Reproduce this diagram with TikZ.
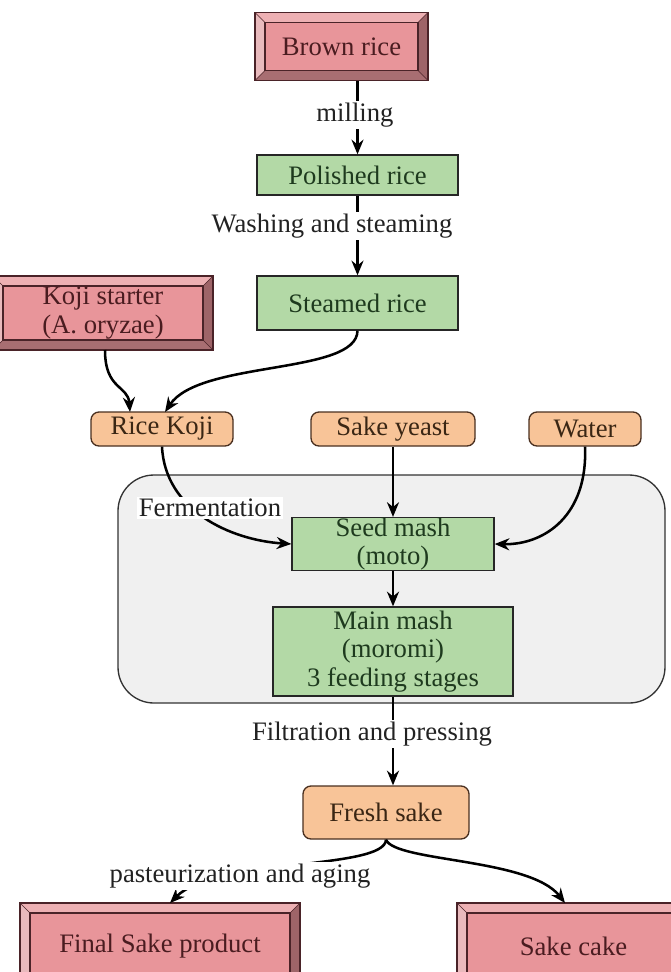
\documentclass[tikz,border=0pt]{standalone}
\usepackage{fontspec}
\setmainfont{Liberation Serif}
\usetikzlibrary{arrows.meta,calc}
\definecolor{pinkface}{HTML}{E8959A}
\definecolor{pinktop}{HTML}{EDB0B3}
\definecolor{pinkleft}{HTML}{E9BABD}
\definecolor{pinkright}{HTML}{9E6468}
\definecolor{pinkbottom}{HTML}{A86E72}
\definecolor{pinkline}{HTML}{4A2328}
\definecolor{pinktext}{HTML}{4A1C20}
\definecolor{greenface}{HTML}{B3D9A6}
\definecolor{greentext}{HTML}{1E3A1E}
\definecolor{orangeface}{HTML}{F8C498}
\definecolor{orangetext}{HTML}{3A2614}
\definecolor{orangeline}{HTML}{4A3020}
\definecolor{grayface}{HTML}{F0F0F0}
\definecolor{labeltext}{HTML}{222222}
\newcommand{\bvw}{7.5pt}
\tikzset{
  every node/.style={font=\fontsize{20}{21.5}\selectfont, align=center, inner sep=0pt},
  bx/.style 2 args={minimum width=#1*0.75pt, minimum height=#2*0.75pt},
  bevelbox/.style={draw=pinkline, line width=1pt, fill=pinkface, text=pinktext,
    path picture={
      \coordinate (pSW) at (path picture bounding box.south west);
      \coordinate (pNE) at (path picture bounding box.north east);
      \coordinate (pNW) at (path picture bounding box.north west);
      \coordinate (pSE) at (path picture bounding box.south east);
      \coordinate (iSW) at ($(pSW)+(\bvw,\bvw)$);
      \coordinate (iNE) at ($(pNE)+(-\bvw,-\bvw)$);
      \coordinate (iNW) at ($(pNW)+(\bvw,-\bvw)$);
      \coordinate (iSE) at ($(pSE)+(-\bvw,\bvw)$);
      \fill[pinktop] (pNW) -- (pNE) -- (iNE) -- (iNW) -- cycle;
      \fill[pinkleft] (pNW) -- (pSW) -- (iSW) -- (iNW) -- cycle;
      \fill[pinkright] (pNE) -- (pSE) -- (iSE) -- (iNE) -- cycle;
      \fill[pinkbottom] (pSW) -- (pSE) -- (iSE) -- (iSW) -- cycle;
      \draw[pinkline, line width=0.5pt] (pNW)--(iNW) (pNE)--(iNE) (pSW)--(iSW) (pSE)--(iSE);
      \draw[pinkline, line width=1pt] (iSW) rectangle (iNE);
    }},
  greenbox/.style={draw=black!85, line width=1pt, fill=greenface, text=greentext},
  orangebox/.style={draw=orangeline, line width=1pt, fill=orangeface, text=orangetext, rounded corners=6pt},
  stagebox/.style={draw=black!80, line width=1pt, fill=grayface, rounded corners=27pt},
  lbl/.style={fill=white, text=labeltext, inner sep=1.5pt},
  flow/.style={line width=1.9pt, -{Stealth[length=11pt,width=9pt]}},
}
\begin{document}
\begin{tikzpicture}[x=0.75pt,y=-0.75pt]
\useasboundingbox (0,0) rectangle (671,972);
\clip (0,0) rectangle (671,972);
\fill[white] (0,0) rectangle (671,972);

% grouping box
\node[stagebox, bx={547}{228}] (stage) at (391.5,589) {};

% nodes
\node[bevelbox, bx={173}{68}] (brown) at (341.5,46.5) {Brown rice};
\node[greenbox, bx={201}{40}] (polished) at (357.5,175) {Polished rice};
\node[greenbox, bx={201}{54}] (steamed) at (357.5,303) {Steamed rice};
\node[bevelbox, bx={220}{74}] (koji) at (103,313) {Koji starter\\(A. oryzae)};
\node[orangebox, bx={142}{34}] (ricekoji) at (162,429) {Rice Koji};
\node[orangebox, bx={164}{34}] (yeast) at (393,429) {Sake yeast};
\node[orangebox, bx={112}{34}] (water) at (585,429) {Water};
\node[greenbox, bx={202}{52}] (seed) at (393,544) {Seed mash\\(moto)};
\node[greenbox, bx={240}{89}] (main) at (393,651.5) {Main mash\\(moromi)\\3 feeding stages};
\node[orangebox, bx={166}{53}] (fresh) at (386,812.5) {Fresh sake};
\node[bevelbox, bx={280}{86}] (final) at (160,946) {Final Sake product};
\node[bevelbox, bx={233}{86}] (cake) at (573.5,946) {Sake cake};

% connector end points
\coordinate (kojiout) at (105,350);
\coordinate (kojiin) at (130,412);
\coordinate (steamin) at (165,412);
\coordinate (finalin) at (170,903);
\coordinate (cakein) at (565,903);

% connectors
\draw[flow] (brown.south -| polished.north) -- (polished.north);
\draw[flow] (polished.south) -- (steamed.north);
\draw[flow] (kojiout) .. controls (105,390) and (128,385) .. (kojiin);
\draw[flow] (steamed.south) .. controls (357,375) and (200,360) .. (steamin);
\draw[flow] (ricekoji.south) .. controls (165,510) and (230,540) .. (seed.west);
\draw[flow] (yeast.south) -- (seed.north);
\draw[flow] (water.south) .. controls (588,515) and (545,545) .. (seed.east);
\draw[flow] (seed.south) -- (main.north);
\draw[flow] (main.south) -- (main.south |- fresh.north);
\draw[flow] (fresh.south) .. controls (385,870) and (215,858) .. (finalin);
\draw[flow] (fresh.south) .. controls (395,862) and (530,858) .. (cakein);

% labels
\node[lbl] (lmill) at (355,115) {milling};
\node[lbl] (lwash) at (332,226) {Washing and steaming};
\node[lbl] (lferm) at (210,508) {Fermentation};
\node[lbl] (lfilt) at (372,734) {Filtration and pressing};
\node[lbl] (lpast) at (240,876) {pasteurization and aging};
\end{tikzpicture}
\end{document}
